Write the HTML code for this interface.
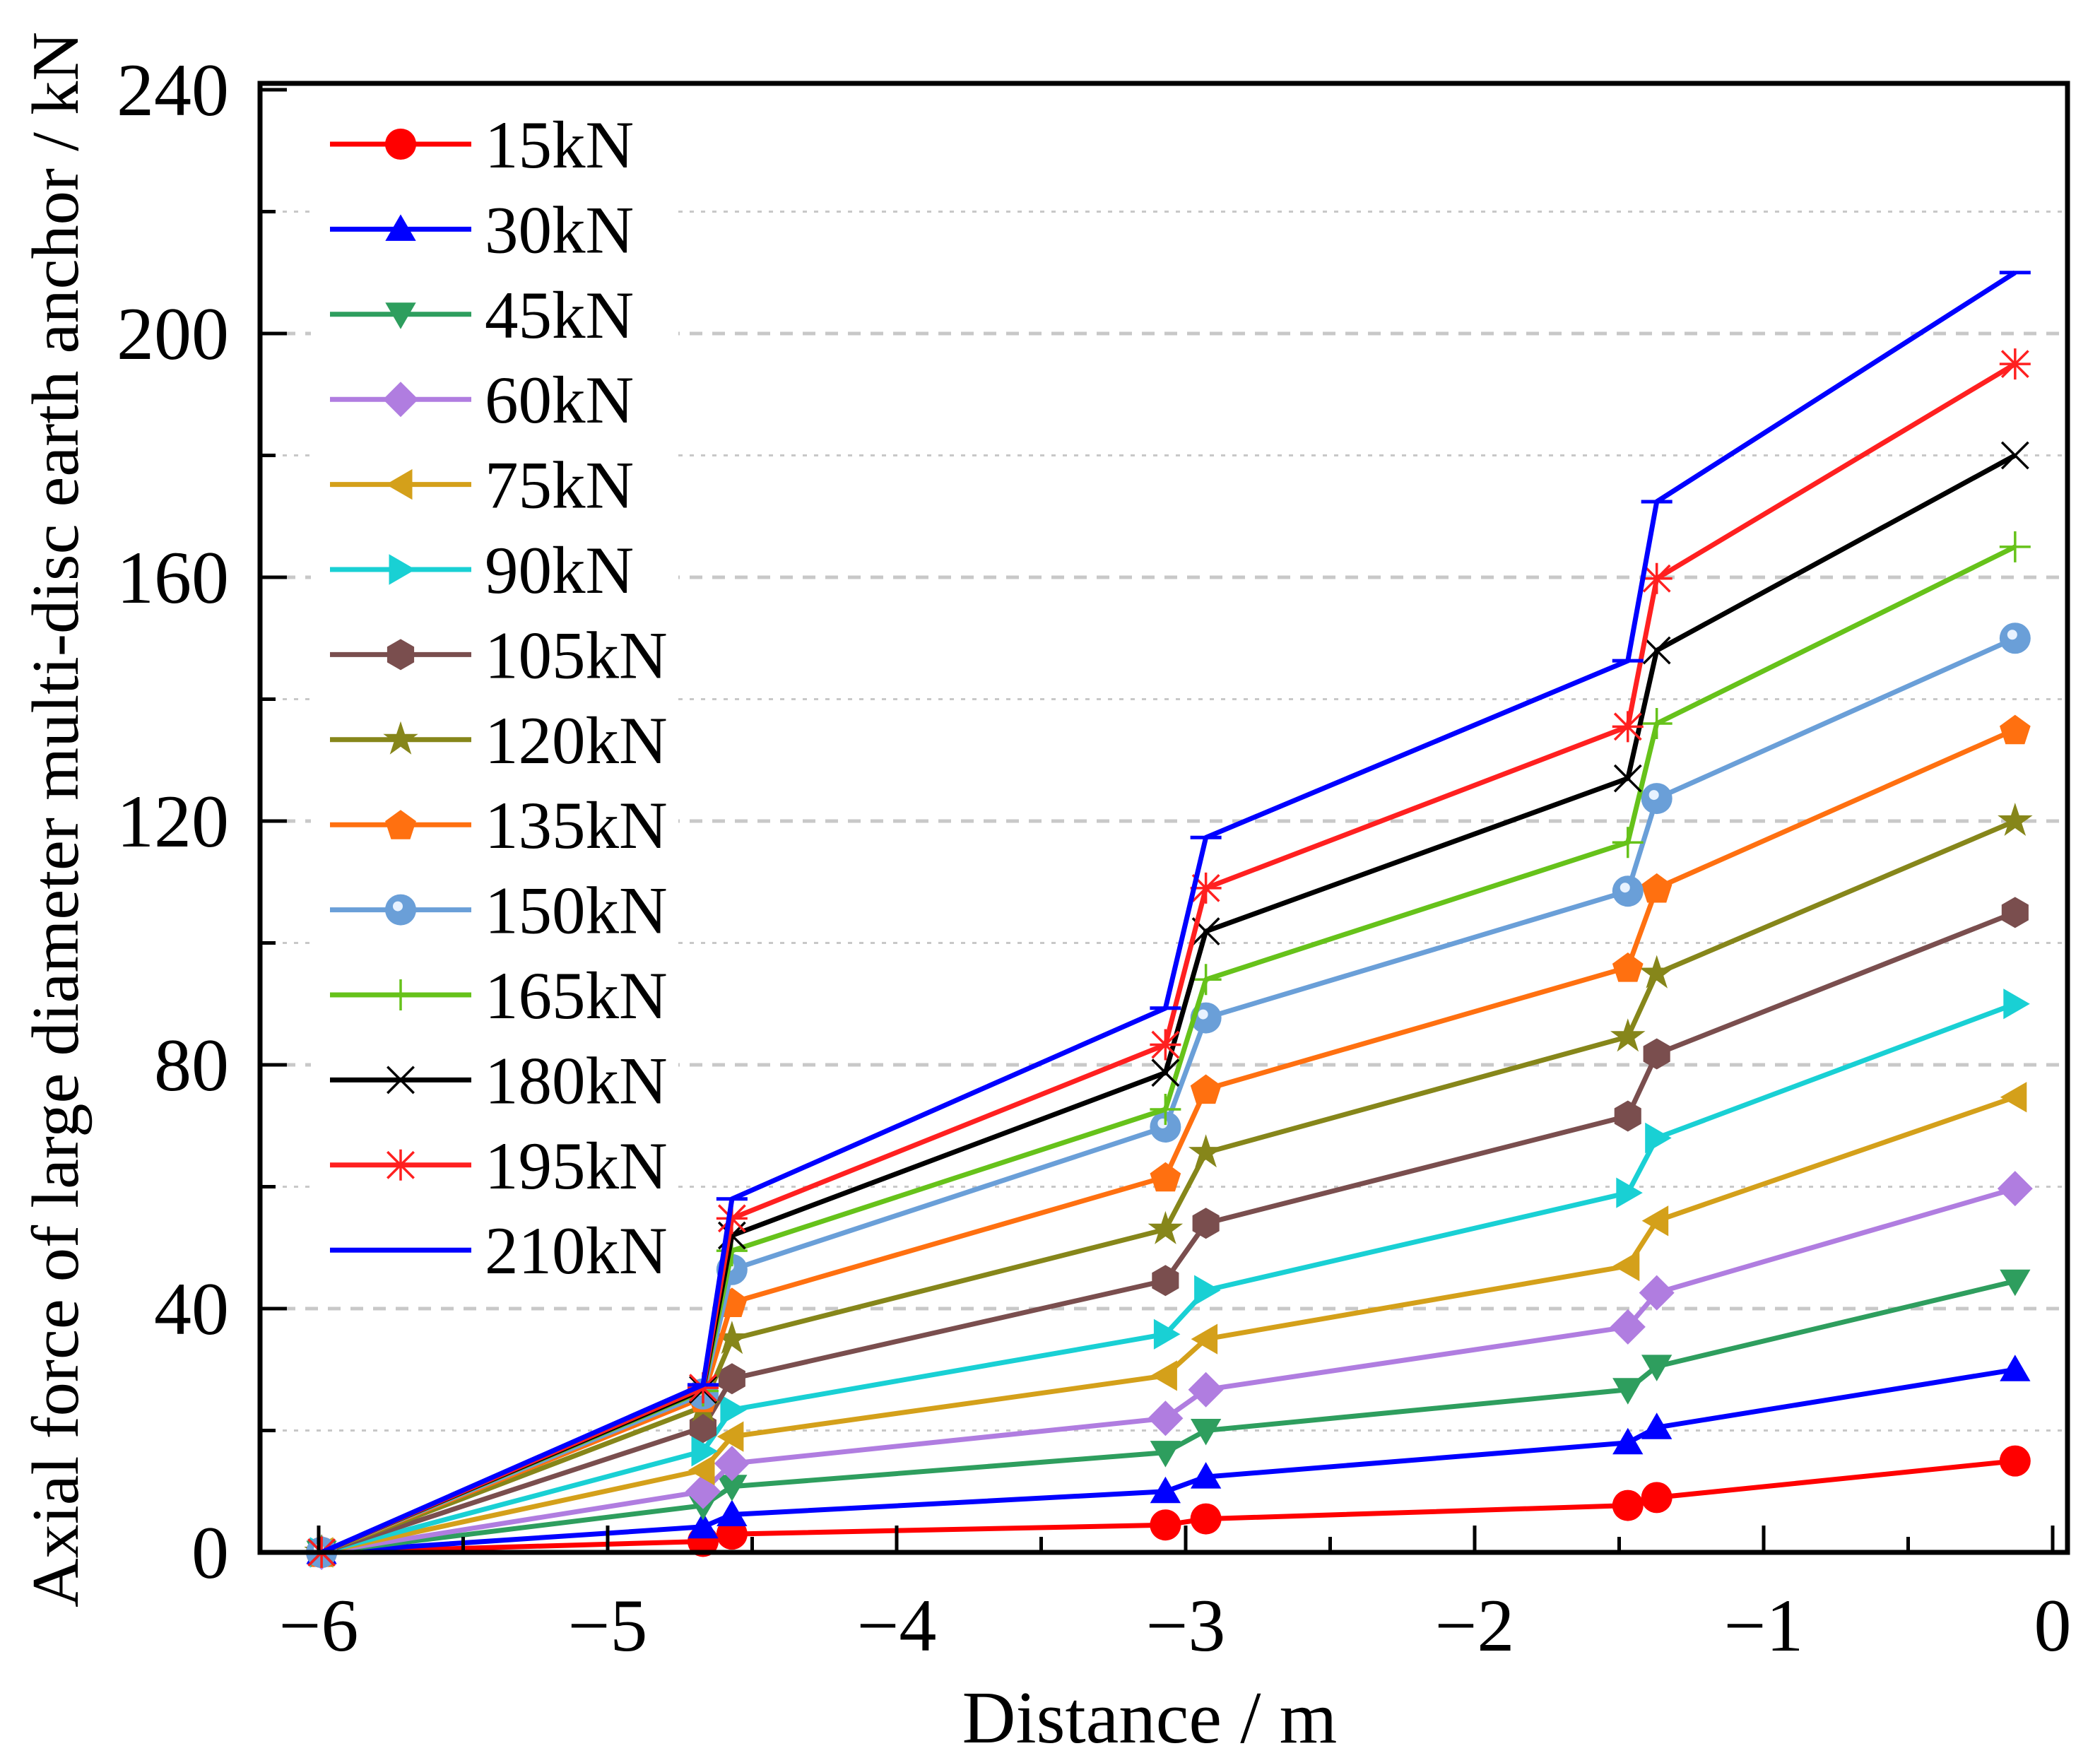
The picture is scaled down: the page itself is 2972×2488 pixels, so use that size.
<!DOCTYPE html>
<html><head><meta charset="utf-8"><style>
html,body{margin:0;padding:0;background:#fff;}
svg{display:block;font-family:"Liberation Serif","Times New Roman",serif;}
</style></head><body>
<svg id="chart" width="2972" height="2488" viewBox="0 0 2972 2488" xmlns="http://www.w3.org/2000/svg">
<rect width="2972" height="2488" fill="#fff"/>
<g id="grid"></g>
<g id="series"></g>
<g id="legend"></g>
<g id="axes"></g>
</svg>
<script>
const xPositions = [-5.99, -4.67, -4.57, -3.07, -2.93, -1.47, -1.37, -0.13];
const seriesNames = ["15kN","30kN","45kN","60kN","75kN","90kN","105kN","120kN","135kN","150kN","165kN","180kN","195kN","210kN"];
const s15 = [0, 1.8, 3, 4.5, 5.5, 7.7, 9, 15];
const s30 = [0, 4.2, 6.2, 10, 12.4, 18, 20.5, 30];
const s45 = [0, 7.7, 10.8, 16.4, 20, 26.7, 30.5, 44.5];
const s60 = [0, 10, 14.6, 22, 26.7, 37, 42.6, 59.7];
const s75 = [0, 13.5, 19, 29, 35, 47, 54.4, 74.7];
const s90 = [0, 16.6, 23.4, 35.8, 43, 59, 68, 90];
const s105 = [0, 20.5, 28.5, 44.6, 54, 71.6, 81.8, 105];
const s120 = [0, 23.9, 35, 53, 65.6, 84.6, 95, 120];
const s135 = [0, 25.4, 41, 61.6, 76, 96, 109, 135];
const s150 = [0, 26, 46.4, 69.8, 87.7, 108.5, 123.7, 150];
const s165 = [0, 26.5, 49.5, 72.7, 94, 116.5, 136, 165];
const s180 = [0, 26.7, 52, 78.7, 101.9, 127, 148, 180];
const s195 = [0, 27, 54.8, 83.3, 109, 135.5, 159.8, 195];
const s210 = [0, 27.5, 58, 89.3, 117.3, 146.3, 172.4, 210];
const xTicks = [-6,-5,-4,-3,-2,-1,0];
const yTicks = [0,40,80,120,160,200,240];

const allSeries = [s15,s30,s45,s60,s75,s90,s105,s120,s135,s150,s165,s180,s195,s210];
const colors = ["#ff0000","#0000ff","#2e9e5e","#b07de0","#d4a01a","#19d0d4","#7a4e4e","#86861a","#ff7010","#6a9fd8","#66c21a","#000000","#ff2020","#0000ff"];
const markers = ["circle","triUp","triDown","diamond","triLeft","triRight","hexagon","star","pentagon","sphere","plus","cross","asterisk","dash"];

const NS="http://www.w3.org/2000/svg";
const L=368,R=2926,T=118,B=2197;
function X(v){return 451+(v+6)*409;}
function Y(v){return 2197-v*8.625;}
function mk(tag,attrs,parent){const e=document.createElementNS(NS,tag);for(const k in attrs)e.setAttribute(k,attrs[k]);parent.appendChild(e);return e;}

function polyPts(cx,cy,r,n,rot){let p=[];for(let i=0;i<n;i++){const a=rot+i*2*Math.PI/n;p.push((cx+r*Math.cos(a)).toFixed(1)+","+(cy+r*Math.sin(a)).toFixed(1));}return p.join(" ");}
function starPts(cx,cy,r1,r2){let p=[];for(let i=0;i<10;i++){const a=-Math.PI/2+i*Math.PI/5;const r=i%2?r2:r1;p.push((cx+r*Math.cos(a)).toFixed(1)+","+(cy+r*Math.sin(a)).toFixed(1));}return p.join(" ");}
function drawMarker(type,cx,cy,col,parent){
  const g=mk("g",{},parent);
  const r=22;
  if(type==="circle"){mk("circle",{cx,cy,r:r,fill:col},g);}
  else if(type==="triUp"){mk("polygon",{points:polyPts(cx,cy+4,r+3,3,-Math.PI/2),fill:col},g);}
  else if(type==="triDown"){mk("polygon",{points:polyPts(cx,cy-4,r+3,3,Math.PI/2),fill:col},g);}
  else if(type==="triLeft"){mk("polygon",{points:polyPts(cx+4,cy,r+3,3,Math.PI),fill:col},g);}
  else if(type==="triRight"){mk("polygon",{points:polyPts(cx-4,cy,r+3,3,0),fill:col},g);}
  else if(type==="diamond"){mk("polygon",{points:polyPts(cx,cy,r+3,4,-Math.PI/2),fill:col},g);}
  else if(type==="hexagon"){mk("polygon",{points:polyPts(cx,cy,r,6,-Math.PI/2),fill:col},g);}
  else if(type==="pentagon"){mk("polygon",{points:polyPts(cx,cy+2,r+1,5,-Math.PI/2),fill:col},g);}
  else if(type==="star"){mk("polygon",{points:starPts(cx,cy,r+4,10),fill:col},g);}
  else if(type==="sphere"){mk("circle",{cx,cy,r:r,fill:col},g);mk("circle",{cx:cx-4,cy:cy-5,r:7,fill:"#e8f2ff"},g);}
  else if(type==="plus"){mk("path",{d:`M${cx-r} ${cy}H${cx+r}M${cx} ${cy-r}V${cy+r}`,stroke:col,"stroke-width":3.5,fill:"none"},g);}
  else if(type==="cross"){const d=r*0.85;mk("path",{d:`M${cx-d} ${cy-d}L${cx+d} ${cy+d}M${cx-d} ${cy+d}L${cx+d} ${cy-d}`,stroke:col,"stroke-width":3.5,fill:"none"},g);}
  else if(type==="asterisk"){const d=r*0.85;mk("path",{d:`M${cx-d} ${cy-d}L${cx+d} ${cy+d}M${cx-d} ${cy+d}L${cx+d} ${cy-d}M${cx-r} ${cy}H${cx+r}M${cx} ${cy-r}V${cy+r}`,stroke:col,"stroke-width":3.5,fill:"none"},g);}
  else if(type==="dash"){mk("path",{d:`M${cx-r} ${cy}H${cx+r}`,stroke:col,"stroke-width":5,fill:"none"},g);}
  return g;
}

const grid=document.getElementById("grid");
for(let v=20;v<=220;v+=20){
  const major=(v%40===0);
  const gl=mk("line",{x1:L,x2:R,y1:Y(v),y2:Y(v),stroke:"#c8c8c8","stroke-width":major?5:3,"stroke-dasharray":major?"18,14":"6,10"},grid);
  
  
}

const sg=document.getElementById("series");
allSeries.forEach((arr,i)=>{
  const g=mk("g",{},sg);
  
  
  const pts=arr.map((v,j)=>X(xPositions[j]).toFixed(1)+","+Y(v).toFixed(1)).join(" ");
  const pl=mk("polyline",{points:pts,fill:"none",stroke:colors[i],"stroke-width":7,"stroke-linejoin":"round"},g);
  
  
  arr.forEach((v,j)=>{
    const m=drawMarker(markers[i],X(xPositions[j]),Y(v),colors[i],g);
    
    
  });
});

const lg=document.getElementById("legend");
mk("rect",{x:440,y:150,width:520,height:1680,fill:"#fff"},lg);
seriesNames.forEach((n,i)=>{
  const y=204+i*120.4;
  const e=mk("g",{},lg);
  
  
  mk("line",{x1:467,x2:667,y1:y,y2:y,stroke:colors[i],"stroke-width":7},e);
  drawMarker(markers[i],567,y,colors[i],e);
  const t=mk("text",{x:686,y:y+33,"font-size":95,fill:"#000"},e);
  t.textContent=n;
});

const ax=document.getElementById("axes");
mk("rect",{x:L,y:T,width:R-L,height:B-T,fill:"none",stroke:"#000","stroke-width":7},ax);
for(let v=-6;v<=0.001;v+=0.5){
  const major=Math.abs(v-Math.round(v))<1e-6;
  mk("line",{x1:X(v),x2:X(v),y1:B,y2:B-(major?38:22),stroke:"#000","stroke-width":5},ax);
}
for(let v=0;v<=240;v+=20){
  const major=v%40===0;
  mk("line",{x1:L,x2:L+(major?38:22),y1:Y(v),y2:Y(v),stroke:"#000","stroke-width":5},ax);
}
xTicks.forEach(v=>{
  const t=mk("text",{x:X(v),y:2336,"font-size":106,"text-anchor":"middle"},ax);
  t.textContent=(v<0?"\u2212"+(-v):String(v));
  
  
});
yTicks.forEach(v=>{
  const t=mk("text",{x:324,y:Y(v)+36,"font-size":106,"text-anchor":"end"},ax);
  t.textContent=String(v);
  
  
});
const xt=mk("text",{x:1627,y:2466,"font-size":105,"text-anchor":"middle"},ax);
xt.textContent="Distance / m";


const yt=mk("text",{x:0,y:0,"font-size":94,"text-anchor":"middle",transform:"translate(110,1160) rotate(-90)",textLength:"2230",lengthAdjust:"spacingAndGlyphs"},ax);
yt.textContent="Axial force of large diameter multi-disc earth anchor / kN";


</script>
</body></html>
